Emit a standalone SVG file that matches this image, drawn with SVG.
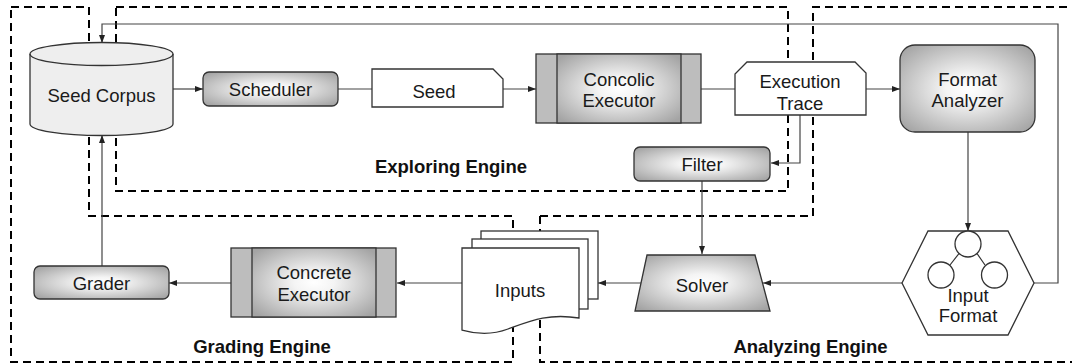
<svg xmlns="http://www.w3.org/2000/svg" width="1072" height="363" viewBox="0 0 1072 363">
<style>
.t{font-family:"Liberation Sans",Arial,sans-serif;font-size:18.5px;fill:#1a1a1a;text-anchor:middle}
.b{font-family:"Liberation Sans",Arial,sans-serif;font-size:18.5px;font-weight:bold;fill:#111;text-anchor:middle}
.dash{fill:none;stroke:#000;stroke-width:2;stroke-dasharray:8,5}
.n{stroke:#333;stroke-width:1.3}
.c{fill:none;stroke:#444;stroke-width:1.2}
.a{fill:none;stroke:#444;stroke-width:1.2;marker-end:url(#ah)}
</style>
<defs>
<radialGradient id="g" cx="50%" cy="50%" r="65%">
<stop offset="0" stop-color="#ffffff"/>
<stop offset="0.25" stop-color="#f4f4f4"/>
<stop offset="1" stop-color="#a4a4a4"/>
</radialGradient>
<marker id="ah" viewBox="0 0 8 6" refX="8" refY="3" markerWidth="8" markerHeight="6" markerUnits="userSpaceOnUse" orient="auto">
<path d="M0,0 L8,3 L0,6 Z" fill="#222"/>
</marker>
</defs>

<g id="engines">
<path id="grading-engine" class="dash" d="M11,7 H89 V216 H513 V362 H11 Z"/>
<rect id="exploring-engine" class="dash" x="116" y="7" width="672" height="184"/>
<path id="analyzing-engine" class="dash" d="M813,216 V7 H1080 M540,216 H813 M540,216 V362 H1080"/>
</g>

<g id="connectors">
<path class="a" d="M173,89 H203"/>
<path class="c" d="M338,89 H372"/>
<path class="a" d="M503,89 H536"/>
<path class="c" d="M701,89 H735"/>
<path class="a" d="M866,89 H900"/>
<path class="a" d="M800,115 V163 H771"/>
<path class="a" d="M702,181 V254"/>
<path class="a" d="M968,132 V231"/>
<path class="a" d="M902,283 H763"/>
<path class="a" d="M641,283 H598"/>
<path class="a" d="M462,283 H397"/>
<path class="a" d="M231,283 H169"/>
<path class="a" d="M102,266 V135"/>
<path class="a" d="M1034,283 H1058 V24 H102 V43"/>
</g>

<g id="seed-corpus">
<path class="n" fill="#eeeeee" d="M30,54 A71.5,11.5 0 0 1 173,54 V124 A71.5,11.5 0 0 1 30,124 Z"/>
<path class="n" fill="none" d="M30,54 A71.5,11.5 0 0 0 173,54"/>
<text class="t" x="101.5" y="101.5">Seed Corpus</text>
</g>

<g id="scheduler">
<rect class="n" fill="url(#g)" x="203" y="72" width="135" height="34" rx="6"/>
<text class="t" x="270.5" y="96">Scheduler</text>
</g>

<g id="seed">
<path class="n" fill="#fff" d="M372,69 H493 L503,79 V107 H372 Z"/>
<text class="t" x="434" y="97.5">Seed</text>
</g>

<g id="concolic-executor">
<rect class="n" fill="#bdbdbd" x="536" y="54" width="165" height="69"/>
<rect class="n" fill="url(#g)" x="557" y="54" width="124" height="69"/>
<text class="t" x="619" y="85.5">Concolic</text>
<text class="t" x="619" y="107">Executor</text>
</g>

<g id="execution-trace">
<path class="n" fill="#fff" d="M747,62 H855 L866,73 V115 H735 V74 Z"/>
<text class="t" x="800" y="88">Execution</text>
<text class="t" x="800" y="110">Trace</text>
</g>

<g id="format-analyzer">
<rect class="n" fill="url(#g)" x="900" y="45" width="135" height="87" rx="15"/>
<text class="t" x="967.5" y="86">Format</text>
<text class="t" x="967.5" y="107">Analyzer</text>
</g>

<g id="filter">
<rect class="n" fill="url(#g)" x="634" y="147" width="136" height="34" rx="6"/>
<text class="t" x="702" y="171">Filter</text>
</g>

<g id="solver">
<path class="n" fill="url(#g)" d="M647,255 H755 L770,311 H635 Z"/>
<text class="t" x="702" y="291.5">Solver</text>
</g>

<g id="input-format">
<path class="n" fill="#fff" d="M902,283 L928,231 H1008 L1034,283 L1008,335 H928 Z"/>
<path fill="none" stroke="#333" stroke-width="1.2" d="M959,253.5 L950,265 M977,253.5 L985,265"/>
<circle class="n" fill="#fff" cx="968" cy="244" r="13"/>
<circle class="n" fill="#fff" cx="941" cy="275" r="13"/>
<circle class="n" fill="#fff" cx="994.5" cy="275" r="13"/>
<text class="t" x="968" y="302">Input</text>
<text class="t" x="968" y="322">Format</text>
</g>

<g id="inputs">
<rect class="n" fill="#fff" x="481" y="231" width="117" height="68"/>
<rect class="n" fill="#fff" x="472" y="239" width="116" height="70"/>
<path class="n" fill="#fff" d="M462,248 H579 V318 C548,313 530,321 508,329 C492,335 476,334 462,330 Z"/>
<text class="t" x="520" y="297">Inputs</text>
</g>

<g id="concrete-executor">
<rect class="n" fill="#bdbdbd" x="231" y="248" width="165" height="69"/>
<rect class="n" fill="url(#g)" x="252" y="248" width="124" height="69"/>
<text class="t" x="314" y="279">Concrete</text>
<text class="t" x="314" y="300.5">Executor</text>
</g>

<g id="grader">
<rect class="n" fill="url(#g)" x="34" y="266" width="135" height="33" rx="6"/>
<text class="t" x="101.5" y="290">Grader</text>
</g>

<g id="labels">
<text class="b" x="451" y="172.5">Exploring Engine</text>
<text class="b" x="262" y="353">Grading Engine</text>
<text class="b" x="810.5" y="352.5">Analyzing Engine</text>
</g>
</svg>
